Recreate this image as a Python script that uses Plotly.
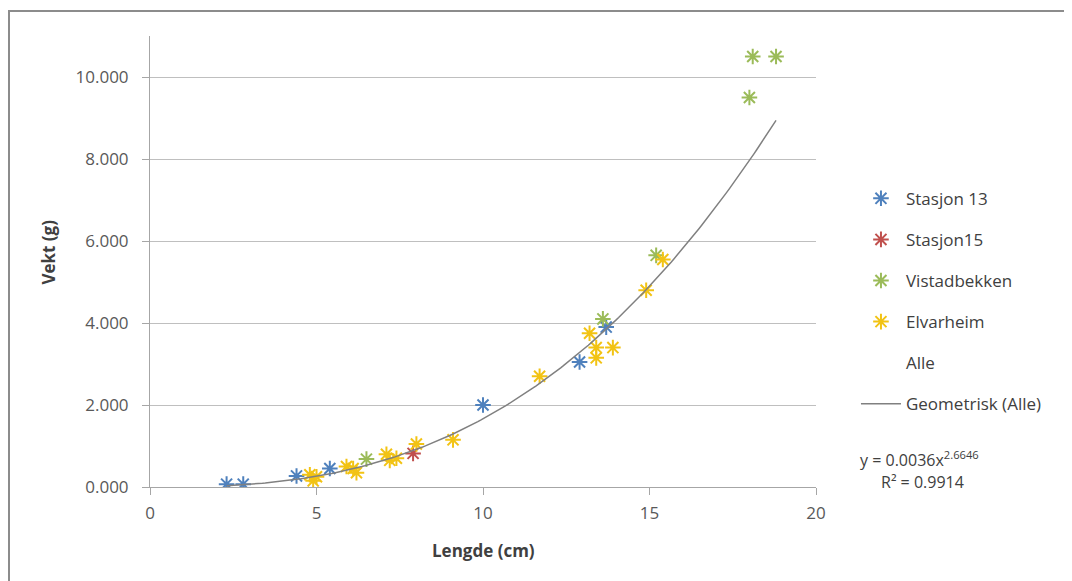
import numpy as np
import plotly.graph_objects as go

# Data (Lengde cm, Vekt g)
st13_x = [2.3, 2.8, 4.4, 5.4, 10.0, 12.9, 13.7]
st13_y = [0.07, 0.07, 0.27, 0.45, 2.0, 3.05, 3.9]
st15_x = [7.9]
st15_y = [0.82]
vist_x = [6.5, 13.6, 15.2, 18.0, 18.1, 18.8]
vist_y = [0.68, 4.1, 5.65, 9.5, 10.5, 10.5]
elv_x = [4.8, 4.9, 5.0, 5.9, 6.1, 6.2, 7.1, 7.2, 7.4, 8.0, 9.1, 11.7, 13.2, 13.4, 13.4, 13.9, 14.9, 15.4]
elv_y = [0.3, 0.15, 0.25, 0.5, 0.45, 0.35, 0.8, 0.65, 0.7, 1.05, 1.15, 2.7, 3.75, 3.4, 3.15, 3.4, 4.8, 5.55]

# Trendline coefficients (power fit, as printed on chart)
coef_a = 0.0036
coef_b = 2.6646
r2 = 0.9914

series_names = ["Stasjon 13", "Stasjon15", "Vistadbekken", "Elvarheim"]
series_x = [st13_x, st15_x, vist_x, elv_x]
series_y = [st13_y, st15_y, vist_y, elv_y]
colors = ["#4F81BD", "#C0504D", "#9BBB59", "#F2C314"]

y_ticks = [0, 2, 4, 6, 8, 10]
y_ticktext = ["0.000", "2.000", "4.000", "6.000", "8.000", "10.000"]

all_x = st13_x + st15_x + vist_x + elv_x
all_y = st13_y + st15_y + vist_y + elv_y

font_family = "'Open Sans', sans-serif"

fig = go.Figure()
for i, (n, xs, ys, c) in enumerate(zip(series_names, series_x, series_y, colors)):
    fig.add_trace(go.Scatter(
        x=xs, y=ys, mode="markers", name=n, legendgroup=str(i),
        marker=dict(symbol="asterisk-open", size=13, color=c,
                    line=dict(color=c, width=2)),
    ))

fig.add_trace(go.Scatter(
    x=all_x, y=all_y, mode="markers", name="Alle", legendgroup="4",
    marker=dict(symbol="circle", size=8, color="rgba(0,0,0,0)"),
))

tx = np.linspace(min(all_x), max(all_x), 200)
ty = coef_a * tx ** coef_b
fig.add_trace(go.Scatter(
    x=tx, y=ty, mode="lines", name="Geometrisk (Alle)", legendgroup="5",
    line=dict(color="#808080", width=1.5),
))

fig.update_layout(
    width=1072, height=581,
    margin=dict(l=142, r=264, t=28, b=102, autoexpand=False),
    paper_bgcolor="white", plot_bgcolor="white",
    font=dict(family=font_family, size=16, color="#404040"),
    showlegend=True,
    legend=dict(x=1.06, y=0.679, xanchor="left", yanchor="top",
                font=dict(size=17, color="#404040"), tracegroupgap=16,
                itemwidth=40, bgcolor="rgba(0,0,0,0)"),
    xaxis=dict(range=[0, 20], dtick=5, showgrid=False, zeroline=False,
               showline=True, linecolor="#A6A6A6", linewidth=1,
               ticks="outside", ticklen=7, tickcolor="#A6A6A6",
               ticklabelstandoff=4,
               tickfont=dict(size=17, color="#595959")),
    yaxis=dict(range=[0, 11], tickvals=y_ticks, ticktext=y_ticktext,
               showgrid=True, gridcolor="#BFBFBF", gridwidth=1, zeroline=False,
               showline=True, linecolor="#A6A6A6", linewidth=1,
               ticks="outside", ticklen=7, tickcolor="#A6A6A6",
               ticklabelstandoff=10,
               tickfont=dict(size=17, color="#595959")),
)

# axis titles
fig.add_annotation(xref="paper", yref="paper", x=0.5, y=-0.14, xanchor="center", yanchor="middle",
                   text="<b>Lengde (cm)</b>", showarrow=False,
                   font=dict(size=17, color="#404040"))
fig.add_annotation(xref="paper", yref="paper", x=-0.153, y=0.52, xanchor="center", yanchor="middle",
                   text="<b>Vekt (g)</b>", showarrow=False, textangle=-90,
                   font=dict(size=17, color="#404040"))

# trendline equation
fig.add_annotation(xref="paper", yref="paper", x=1.063, y=0.063, xanchor="left", yanchor="middle",
                   text=f"y = {coef_a}x<sup>{coef_b}</sup>", showarrow=False,
                   font=dict(size=16, color="#404040"))
fig.add_annotation(xref="paper", yref="paper", x=1.095, y=0.011, xanchor="left", yanchor="middle",
                   text=f"R² = {r2}", showarrow=False,
                   font=dict(size=16, color="#404040"))

# outer chart frame
fig.add_shape(type="rect", xref="paper", yref="paper",
              x0=-0.2117, y0=-0.4, x1=1.6, y1=1.0554,
              line=dict(color="#8C8C8C", width=2), fillcolor="rgba(0,0,0,0)", layer="below")

fig.write_html("out.html")
